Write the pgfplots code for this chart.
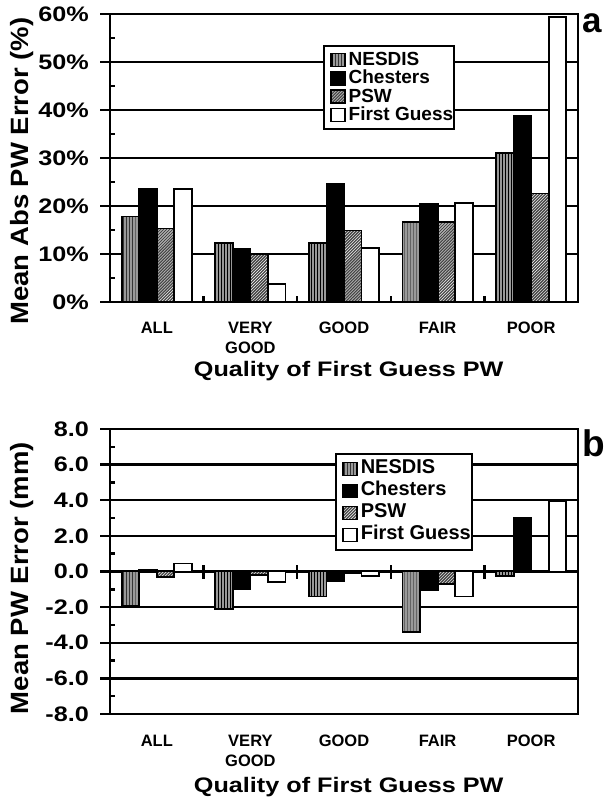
\documentclass[border=0pt]{standalone}
\usepackage{pgfplots}
\pgfplotsset{compat=1.18}
\usepackage{fontspec}
\setmainfont{Liberation Sans}
\newfontfamily\widefont{Liberation Sans}[FakeStretch=1.2]
\newfontfamily\medfont{Liberation Sans}[FakeStretch=1.1]
\usetikzlibrary{patterns}

\pgfplotsset{
  mybarlegend/.style={legend image code/.code={\path (-6bp,0bp) (16bp,0bp); \draw[##1,line width=1.6bp] (0bp,-6.5bp) rectangle (14bp,6.5bp);}},
  panel/.style={
    scale only axis, width=468bp,
    xmin=-0.5, xmax=4.5,
    axis line style={line width=2.6bp},
    ybar=0pt, bar width=0.187,
    every axis plot post/.append style={mybarlegend},
    xtick={0,1,2,3,4},
    xticklabels={ALL,VERY\\GOOD,GOOD,FAIR,POOR},
    xtick style={draw=none},
    xticklabel style={font=\fontsize{16.5bp}{19.5bp}\selectfont\bfseries, align=center, anchor=north, inner sep=0pt},
    ytick pos=left,
    tick align=outside,
    major tick length=10bp, minor tick length=5bp,
    every tick/.append style={line width=2.4bp, black},
    every minor tick/.append style={xshift=5bp},
    ymajorgrids,
    major grid style={line width=2.4bp, black},
    yticklabel style={font=\widefont\bfseries\fontsize{21bp}{21bp}\selectfont, inner sep=0pt},
    yticklabel shift=11bp,
    ylabel style={font=\medfont\bfseries\fontsize{25bp}{25bp}\selectfont, anchor=center},
    xlabel style={font=\widefont\bfseries\fontsize{21bp}{21bp}\selectfont, anchor=base},
    legend cell align=left,
  },
  nes/.style={draw=black, line width=1.8bp, fill=gray!80, postaction={pattern=vertical lines, pattern color=black}},
  che/.style={draw=black, line width=1.8bp, fill=black},
  psw/.style={draw=black, line width=1.8bp, fill=gray!55!black, postaction={pattern=north east lines, pattern color=white}},
  fgs/.style={draw=black, line width=1.8bp, fill=white},
}

\begin{document}
\begin{tikzpicture}
\path[use as bounding box] (0,0) rectangle (608bp,801bp);

% ---------------- panel a ----------------
\begin{axis}[panel,
  at={(110bp,499bp)}, anchor=south west,
  height=288bp,
  ymin=0, ymax=60,
  ytick={0,10,20,30,40,50,60},
  yticklabels={0\%,10\%,20\%,30\%,40\%,50\%,60\%},
  minor ytick={5,15,25,35,45,55},
  xticklabel shift=10bp,
  ylabel={Mean Abs PW Error (\%)},
  ylabel style={at={(rel axis cs:-0.187,0.455)}},
  xlabel={Quality of First Guess PW},
  xlabel style={at={(rel axis cs:0.51,-0.26)}},
  legend style={at={(rel axis cs:0.455,0.892)}, anchor=north west,
    font=\bfseries\fontsize{19bp}{19bp}\selectfont,
    draw=black, line width=1.8bp, fill=white,
    inner xsep=0bp, inner ysep=5bp, row sep=0pt,
    nodes={inner sep=1bp, text height=13.5bp, text depth=2.8bp}},
]
\addplot[nes] coordinates {(0,17.8) (1,12.3) (2,12.3) (3,16.6) (4,31.0)};
\addplot[che] coordinates {(0,23.6) (1,11.1) (2,24.6) (3,20.5) (4,38.8)};
\addplot[psw] coordinates {(0,15.3) (1,9.9) (2,14.9) (3,16.6) (4,22.6)};
\addplot[fgs] coordinates {(0,23.6) (1,3.7) (2,11.2) (3,20.7) (4,59.3)};
\legend{NESDIS,Chesters,PSW,First Guess}
\pgfplotsinvokeforeach{-0.5,0.5,1.5,2.5,3.5,4.5}{
  \draw[line width=2.4bp] ([yshift=-7bp]axis cs:#1,0) -- ([yshift=6bp]axis cs:#1,0);
}
\end{axis}

% ---------------- panel b ----------------
\begin{axis}[panel,
  at={(110bp,87bp)}, anchor=south west,
  height=285bp,
  ymin=-8, ymax=8,
  ytick={-8,-6,-4,-2,0,2,4,6,8},
  yticklabels={-8.0,-6.0,-4.0,-2.0,0.0,2.0,4.0,6.0,8.0},
  minor ytick={-7,-5,-3,-1,1,3,5,7},
  xticklabel shift=11bp,
  ylabel={Mean PW Error (mm)},
  ylabel style={at={(rel axis cs:-0.187,0.477)}},
  xlabel={Quality of First Guess PW},
  xlabel style={at={(rel axis cs:0.51,-0.274)}},
  legend style={at={(rel axis cs:0.481,0.916)}, anchor=north west,
    font=\bfseries\fontsize{20bp}{20bp}\selectfont,
    draw=black, line width=1.8bp, fill=white,
    inner xsep=0bp, inner ysep=4bp, row sep=0pt,
    nodes={inner sep=1bp, text height=15bp, text depth=5bp}},
]
\addplot[nes] coordinates {(0,-1.95) (1,-2.1) (2,-1.4) (3,-3.4) (4,-0.25)};
\addplot[che] coordinates {(0,0.1) (1,-1.0) (2,-0.55) (3,-1.05) (4,3.0)};
\addplot[psw] coordinates {(0,-0.3) (1,-0.2) (2,-0.1) (3,-0.7) (4,-0.05)};
\addplot[fgs] coordinates {(0,0.45) (1,-0.6) (2,-0.25) (3,-1.4) (4,3.95)};
\legend{NESDIS,Chesters,PSW,First Guess}
\pgfplotsinvokeforeach{-0.5,0.5,1.5,2.5,3.5,4.5}{
  \draw[line width=2.4bp] ([yshift=-7bp]axis cs:#1,0) -- ([yshift=7bp]axis cs:#1,0);
}
\end{axis}

\node[anchor=base west, inner sep=0pt, font=\bfseries\fontsize{35bp}{35bp}\selectfont] at (582bp,768bp) {a};
\node[anchor=base west, inner sep=0pt, font=\bfseries\fontsize{37bp}{37bp}\selectfont] at (582bp,344bp) {b};
\end{tikzpicture}
\end{document}
